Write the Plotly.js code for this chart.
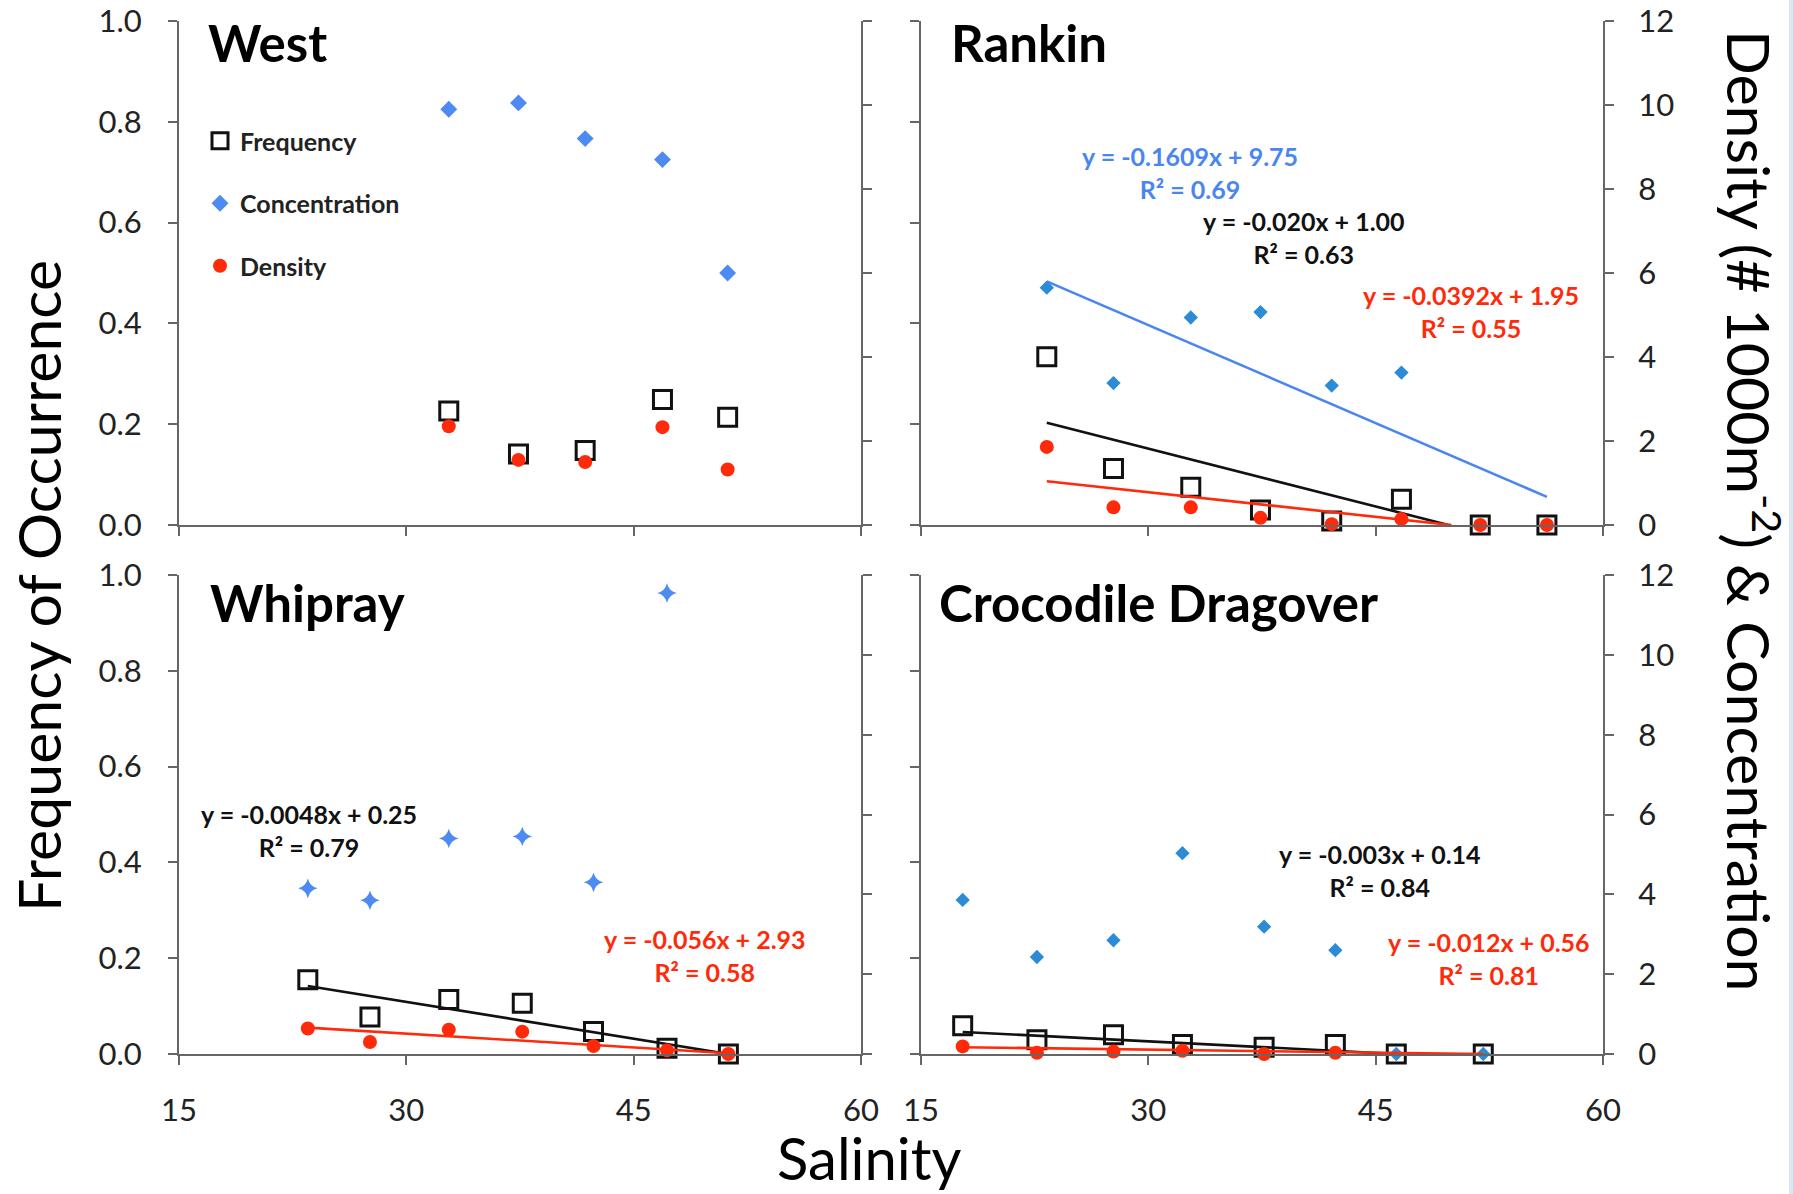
<!DOCTYPE html>
<html>
<head>
<meta charset="utf-8">
<script src="https://cdn.plot.ly/plotly-3.0.1.min.js"></script>
<style>html,body{margin:0;padding:0;background:#fff;}#chart{width:1793px;height:1194px;}</style>
</head>
<body>
<div id="chart"></div>
<script>
// ---------- data ----------
// West
const westSal  = [32.8, 37.4, 41.8, 46.9, 51.2];
const westFreq = [0.226, 0.141, 0.148, 0.249, 0.214];
const westConc = [9.9, 10.05, 9.2, 8.7, 6.0];
const westDens = [2.35, 1.55, 1.5, 2.33, 1.32];

// Rankin
const rankinSal  = [23.3, 27.7, 32.8, 37.4, 42.1, 46.7, 51.9, 56.3];
const rankinFreq = [0.334, 0.112, 0.075, 0.030, 0.008, 0.051, 0, 0];
const rankinConcSal = [23.3, 27.7, 32.8, 37.4, 42.1, 46.7];
const rankinConc = [5.65, 3.38, 4.94, 5.07, 3.32, 3.63];
const rankinDens = [1.86, 0.42, 0.42, 0.17, 0.02, 0.14, 0, 0];
const rankinConcFitX = [23.3, 56.3];
const rankinConcFitY = [5.8, 0.67];
const rankinFreqFitX = [23.3, 49.8];
const rankinFreqFitY = [0.203, 0];
const rankinDensFitX = [23.3, 50.0];
const rankinDensFitY = [1.04, 0];

// Whipray
const whipSal  = [23.5, 27.6, 32.8, 37.65, 42.35, 47.2, 51.25];
const whipConcSal = [23.5, 27.6, 32.8, 37.65, 42.35, 47.2];
const whipConc = [4.15, 3.85, 5.4, 5.45, 4.3, 11.55];
const whipFreq = [0.155, 0.077, 0.114, 0.106, 0.047, 0.012, 0];
const whipDens = [0.64, 0.30, 0.61, 0.56, 0.20, 0.09, 0];
const whipFreqFitX = [23.5, 51.25];
const whipFreqFitY = [0.142, 0];
const whipDensFitX = [23.5, 51.25];
const whipDensFitY = [0.66, 0.02];

// Crocodile Dragover
const crocSal  = [17.75, 22.65, 27.7, 32.25, 37.64, 42.34, 46.36, 52.1];
const crocConc = [3.86, 2.43, 2.85, 5.03, 3.19, 2.6, 0, 0];
const crocFreq = [0.059, 0.030, 0.040, 0.020, 0.014, 0.020, 0, 0];
const crocDensSal = [17.75, 22.65, 27.7, 32.25, 37.64, 42.34];
const crocDens = [0.19, 0.03, 0.06, 0.08, 0.0, 0.03];
const crocFreqFitX = [17.75, 46.4];
const crocFreqFitY = [0.046, 0];
const crocDensFitX = [17.75, 52.1];
const crocDensFitY = [0.17, 0];

// axis ticks
const salTicks  = [15, 30, 45, 60];
const freqTicks = [0, 0.2, 0.4, 0.6, 0.8, 1.0];
const densTicks = [0, 2, 4, 6, 8, 10, 12];

const panelTitles = ['West', 'Rankin', 'Whipray', 'Crocodile Dragover'];
const legendNames = ['Frequency', 'Concentration', 'Density'];

// equation labels
const eqRankinConc = ['y = -0.1609x + 9.75', 'R² = 0.69'];
const eqRankinFreq = ['y = -0.020x + 1.00', 'R² = 0.63'];
const eqRankinDens = ['y = -0.0392x + 1.95', 'R² = 0.55'];
const eqWhipFreq   = ['y = -0.0048x + 0.25', 'R² = 0.79'];
const eqWhipDens   = ['y = -0.056x + 2.93', 'R² = 0.58'];
const eqCrocFreq   = ['y = -0.003x + 0.14', 'R² = 0.84'];
const eqCrocDens   = ['y = -0.012x + 0.56', 'R² = 0.81'];

// ---------- styling ----------
const W = 1793, H = 1194;
const FONT = 'Lato, "Open Sans", sans-serif';
const BLUE1 = '#4d8af2';   // West / Whipray diamonds
const BLUE2 = '#2b8bd4';   // Rankin / Crocodile diamonds
const BLUEL = '#4a86f0';
const RED = '#ff2a0a';
const px = v => v / W;
const py = v => 1 - v / H;

const domL = [px(179), px(861)];
const domR = [px(921), px(1603)];
const domT = [py(525), py(21)];
const domB = [py(1054), py(575)];

function sq(x, y, xa, ya, name, show) {
  return {x, y, xaxis: xa, yaxis: ya, type: 'scatter', mode: 'markers', name,
    legendgroup: 'g1', showlegend: !!show, cliponaxis: false,
    marker: {symbol: 'square-open', size: 18, color: '#111', line: {width: 3, color: '#111'}}};
}
function dm(x, y, xa, ya, name, color, size, show, symbol) {
  return {x, y, xaxis: xa, yaxis: ya, type: 'scatter', mode: 'markers', name,
    legendgroup: 'g2', showlegend: !!show, cliponaxis: false,
    marker: {symbol: symbol || 'diamond', size, color, line: {width: 0}}};
}
function ci(x, y, xa, ya, name, show) {
  return {x, y, xaxis: xa, yaxis: ya, type: 'scatter', mode: 'markers', name,
    legendgroup: 'g3', showlegend: !!show, cliponaxis: false,
    marker: {symbol: 'circle', size: 14, color: RED, line: {width: 0}}};
}
function ln(x, y, xa, ya, color) {
  return {x, y, xaxis: xa, yaxis: ya, type: 'scatter', mode: 'lines', showlegend: false,
    hoverinfo: 'skip', cliponaxis: false, line: {color, width: 2.6}};
}

const traces = [
  // West
  sq(westSal, westFreq, 'x', 'y', legendNames[0], true),
  dm(westSal, westConc, 'x', 'y2', legendNames[1], BLUE1, 13, true),
  ci(westSal, westDens, 'x', 'y2', legendNames[2], true),
  // Rankin
  sq(rankinSal, rankinFreq, 'x2', 'y3', legendNames[0]),
  dm(rankinConcSal, rankinConc, 'x2', 'y4', legendNames[1], BLUE2, 11),
  ci(rankinSal, rankinDens, 'x2', 'y4', legendNames[2]),
  ln(rankinConcFitX, rankinConcFitY, 'x2', 'y4', BLUEL),
  ln(rankinFreqFitX, rankinFreqFitY, 'x2', 'y3', '#111'),
  ln(rankinDensFitX, rankinDensFitY, 'x2', 'y4', RED),
  // Whipray
  sq(whipSal, whipFreq, 'x3', 'y5', legendNames[0]),
  dm(whipConcSal, whipConc, 'x3', 'y6', legendNames[1], BLUE1, 14, false, 'star-diamond'),
  ci(whipSal, whipDens, 'x3', 'y6', legendNames[2]),
  ln(whipFreqFitX, whipFreqFitY, 'x3', 'y5', '#111'),
  ln(whipDensFitX, whipDensFitY, 'x3', 'y6', RED),
  // Crocodile Dragover
  sq(crocSal, crocFreq, 'x4', 'y7', legendNames[0]),
  dm(crocSal, crocConc, 'x4', 'y8', legendNames[1], BLUE2, 11),
  ci(crocDensSal, crocDens, 'x4', 'y8', legendNames[2]),
  ln(crocFreqFitX, crocFreqFitY, 'x4', 'y7', '#111'),
  ln(crocDensFitX, crocDensFitY, 'x4', 'y8', RED)
];

const tickFont = {family: FONT, size: 31, color: '#222'};
const axBase = {showgrid: false, zeroline: false, showline: true, linecolor: '#666', linewidth: 2,
  ticks: 'outside', ticklen: 9, tickwidth: 2, tickcolor: '#666', tickfont: tickFont, fixedrange: true};

function xa(domain, anchor, labels) {
  return Object.assign({}, axBase, {domain, anchor, range: [15, 60], tickmode: 'array',
    tickvals: salTicks, ticktext: salTicks.map(String), showticklabels: labels, ticklabelstandoff: 19});
}
function yl(domain, anchor, labels) {
  return Object.assign({}, axBase, {domain, anchor, range: [0, 1], tickmode: 'array',
    tickvals: freqTicks, ticktext: freqTicks.map(v => v.toFixed(1)), showticklabels: labels, ticklabelstandoff: 20});
}
function yr(over, anchor, labels) {
  return Object.assign({}, axBase, {overlaying: over, anchor, side: 'right', range: [0, 12], tickmode: 'array',
    tickvals: densTicks, ticktext: densTicks.map(String), showticklabels: labels, ticklabelstandoff: 18});
}

function title(text, xPix, yPix) {
  return {text, xref: 'paper', yref: 'paper', x: px(xPix), y: py(yPix), xanchor: 'left', yanchor: 'middle',
    showarrow: false, font: {family: FONT, size: 51, color: '#000', weight: 700}};
}
function eq(lines, xPix, yPix, color) {
  return {text: lines.join('<br>'), xref: 'paper', yref: 'paper', x: px(xPix), y: py(yPix),
    xanchor: 'center', yanchor: 'middle', align: 'center', showarrow: false,
    font: {family: FONT, size: 25, color, weight: 700}};
}

const annotations = [
  title(panelTitles[0], 206, 42),
  title(panelTitles[1], 949, 42),
  title(panelTitles[2], 208, 602),
  title(panelTitles[3], 937, 602),
  eq(eqRankinConc, 1190, 173, BLUEL),
  eq(eqRankinFreq, 1304, 238, '#111'),
  eq(eqRankinDens, 1471, 311, RED),
  eq(eqWhipFreq, 309, 830, '#111'),
  eq(eqWhipDens, 705, 955, RED),
  eq(eqCrocFreq, 1380, 870, '#111'),
  eq(eqCrocDens, 1489, 958, RED),
  {text: 'Frequency of Occurrence', xref: 'paper', yref: 'paper', x: px(38), y: py(586),
    xanchor: 'center', yanchor: 'middle', textangle: -90, showarrow: false,
    font: {family: FONT, size: 59, color: '#000'}},
  {text: 'Salinity', xref: 'paper', yref: 'paper', x: px(869), y: py(1157),
    xanchor: 'center', yanchor: 'middle', showarrow: false,
    font: {family: FONT, size: 58, color: '#000'}},
  {text: 'Density (# 1000m<sup>-2</sup>) & Concentration', xref: 'paper', yref: 'paper', x: px(1754), y: py(511),
    xanchor: 'center', yanchor: 'middle', textangle: 90, showarrow: false,
    font: {family: FONT, size: 59, color: '#000'}}
];

const layout = {
  width: W, height: H, autosize: false,
  margin: {l: 0, r: 0, t: 0, b: 0, pad: 0},
  paper_bgcolor: '#fff', plot_bgcolor: 'rgba(0,0,0,0)',
  font: {family: FONT, color: '#222'},
  showlegend: true,
  legend: {x: px(200), y: py(118), xanchor: 'left', yanchor: 'top', bgcolor: 'rgba(0,0,0,0)',
    borderwidth: 0, traceorder: 'grouped', tracegroupgap: 27, itemsizing: 'trace', itemwidth: 30,
    font: {family: FONT, size: 25, color: '#222', weight: 700}},
  xaxis: xa(domL, 'y', false),
  xaxis2: xa(domR, 'y3', false),
  xaxis3: xa(domL, 'y5', true),
  xaxis4: xa(domR, 'y7', true),
  yaxis: yl(domT, 'x', true),
  yaxis2: yr('y', 'x', false),
  yaxis3: yl(domT, 'x2', false),
  yaxis4: yr('y3', 'x2', true),
  yaxis5: yl(domB, 'x3', true),
  yaxis6: yr('y5', 'x3', false),
  yaxis7: yl(domB, 'x4', false),
  yaxis8: yr('y7', 'x4', true),
  annotations,
  shapes: [{type: 'rect', xref: 'paper', yref: 'paper', x0: px(1789), x1: 1, y0: 0, y1: 1,
    fillcolor: '#dde6f3', line: {width: 0}, layer: 'below'}]
};

Plotly.newPlot('chart', traces, layout, {displayModeBar: false, staticPlot: true});
</script>
</body>
</html>
